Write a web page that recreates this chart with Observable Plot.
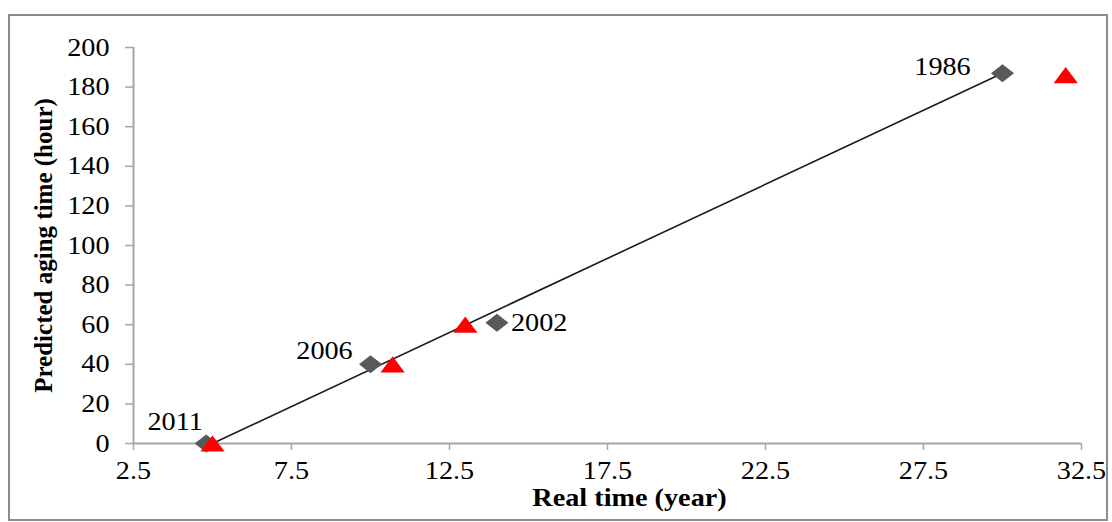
<!DOCTYPE html>
<html>
<head>
<meta charset="utf-8">
<script src="https://cdn.jsdelivr.net/npm/d3@7"></script>
<script src="https://cdn.jsdelivr.net/npm/@observablehq/plot@0.6"></script>
<style>
  html, body { margin: 0; padding: 0; background: #fff; }
  #wrap { position: relative; width: 1112px; height: 522px; overflow: hidden; }
  #frame { position: absolute; left: 8px; top: 14px; width: 1096px; height: 503px; border: 2px solid #8c8c8c; box-sizing: content-box; }
  #chart { position: absolute; left: 0; top: 0; }
</style>
</head>
<body>
<div id="wrap"><div id="frame"></div><div id="chart"></div></div>
<script>
// Predicted (diamond) series
const yearLabels = ["2011", "2006", "2002", "1986"];
const realTime = [4.8, 10, 14, 30];
const predicted = [0, 40, 61, 187];
// Measured (triangle) series
const triX = [5, 10.7, 13, 32];
const triY = [0, 40, 60, 186];
// Fitted line end points
const lineX = [5, 30];
const lineY = [0, 187];
// Axis ticks
const xTicks = [2.5, 7.5, 12.5, 17.5, 22.5, 27.5, 32.5];
const yTicks = [0, 20, 40, 60, 80, 100, 120, 140, 160, 180, 200];
const xTitle = "Real time (year)";
const yTitle = "Predicted aging time (hour)";

const diamonds = yearLabels.map((label, i) => ({label, x: realTime[i], y: predicted[i]}));
const triangles = triX.map((x, i) => ({x, y: triY[i]}));
const fitLine = lineX.map((x, i) => ({x, y: lineY[i]}));

const flatTriangle = {
  draw(ctx, size) {
    const r = Math.sqrt(size / Math.PI);
    const hw = 1.35 * r, hh = 0.9 * r;
    ctx.moveTo(0, -hh);
    ctx.lineTo(hw, hh);
    ctx.lineTo(-hw, hh);
    ctx.closePath();
  }
};
const wideDiamond = {
  draw(ctx, size) {
    const r = Math.sqrt(size / Math.PI);
    const hw = 1.28 * r, hh = 1.0 * r;
    ctx.moveTo(0, -hh);
    ctx.lineTo(hw, 0);
    ctx.lineTo(0, hh);
    ctx.lineTo(-hw, 0);
    ctx.closePath();
  }
};

const font = "'Liberation Serif', 'Times New Roman', serif";
const labelOpts = {x: "x", y: "y", text: "label", fill: "black", fontSize: 25, fontFamily: font, className: "stretch"};
const one = (name) => diamonds.filter(d => d.label === name);

const plot = Plot.plot({
  width: 1112,
  height: 522,
  marginLeft: 133,
  marginRight: 31,
  marginTop: 47,
  marginBottom: 79,
  style: {fontFamily: font, fontSize: "25px", color: "black", background: "transparent"},
  x: {domain: [2.5, 32.5]},
  y: {domain: [0, 200]},
  marks: [
    Plot.ruleY([0], {stroke: "#a6a6a6", strokeWidth: 2}),
    Plot.ruleX([2.5], {stroke: "#a6a6a6", strokeWidth: 2}),
    Plot.axisX({ticks: xTicks, tickSize: 7, tickPadding: 11, stroke: "#a6a6a6", strokeWidth: 1.5, fill: "black", tickFormat: d => d.toFixed(1), label: null, fontSize: 25}),
    Plot.axisY({ticks: yTicks, tickSize: 8, tickPadding: 16, stroke: "#a6a6a6", strokeWidth: 1.5, fill: "black", label: null, fontSize: 25}),
    Plot.line(fitLine, {x: "x", y: "y", stroke: "#1a1a1a", strokeWidth: 1.6}),
    Plot.dot(diamonds, {x: "x", y: "y", r: 9, symbol: wideDiamond, fill: "#595959", stroke: "none"}),
    Plot.dot(triangles, {x: "x", y: "y", r: 9, symbol: flatTriangle, fill: "#ff0000", stroke: "none"}),
    Plot.text(one("2011"), {...labelOpts, dx: -31, dy: -22}),
    Plot.text(one("2006"), {...labelOpts, dx: -46, dy: -13}),
    Plot.text(one("2002"), {...labelOpts, dx: 14, dy: 0, textAnchor: "start"}),
    Plot.text(one("1986"), {...labelOpts, dx: -60, dy: -6}),
    Plot.text([yTitle], {frameAnchor: "left", textAnchor: "middle", dx: -90, rotate: -90, fontWeight: "bold", fontSize: 25, fontFamily: font, fill: "black"}),
    Plot.text([xTitle], {frameAnchor: "bottom", textAnchor: "middle", dx: 22, dy: 62, fontWeight: "bold", fontSize: 25, fontFamily: font, fill: "black", className: "stretch"})
  ]
});

// The reference's horizontal texts are slightly wide: stretch them around their anchors.
const svg = d3.select(plot);
const stretchSel = svg.selectAll('[aria-label="x-axis tick label"] text, [aria-label="y-axis tick label"] text, .stretch text');
stretchSel.each(function() {
  const t = d3.select(this);
  const tr = t.attr("transform");
  if (tr) {
    t.attr("transform", tr + " scale(1.13,1)");
  } else {
    const x = +t.attr("x") || 0, y = +t.attr("y") || 0;
    t.attr("x", null).attr("y", null).attr("transform", `translate(${x},${y}) scale(1.13,1)`);
  }
});
document.getElementById("chart").appendChild(plot);
</script>
</body>
</html>
